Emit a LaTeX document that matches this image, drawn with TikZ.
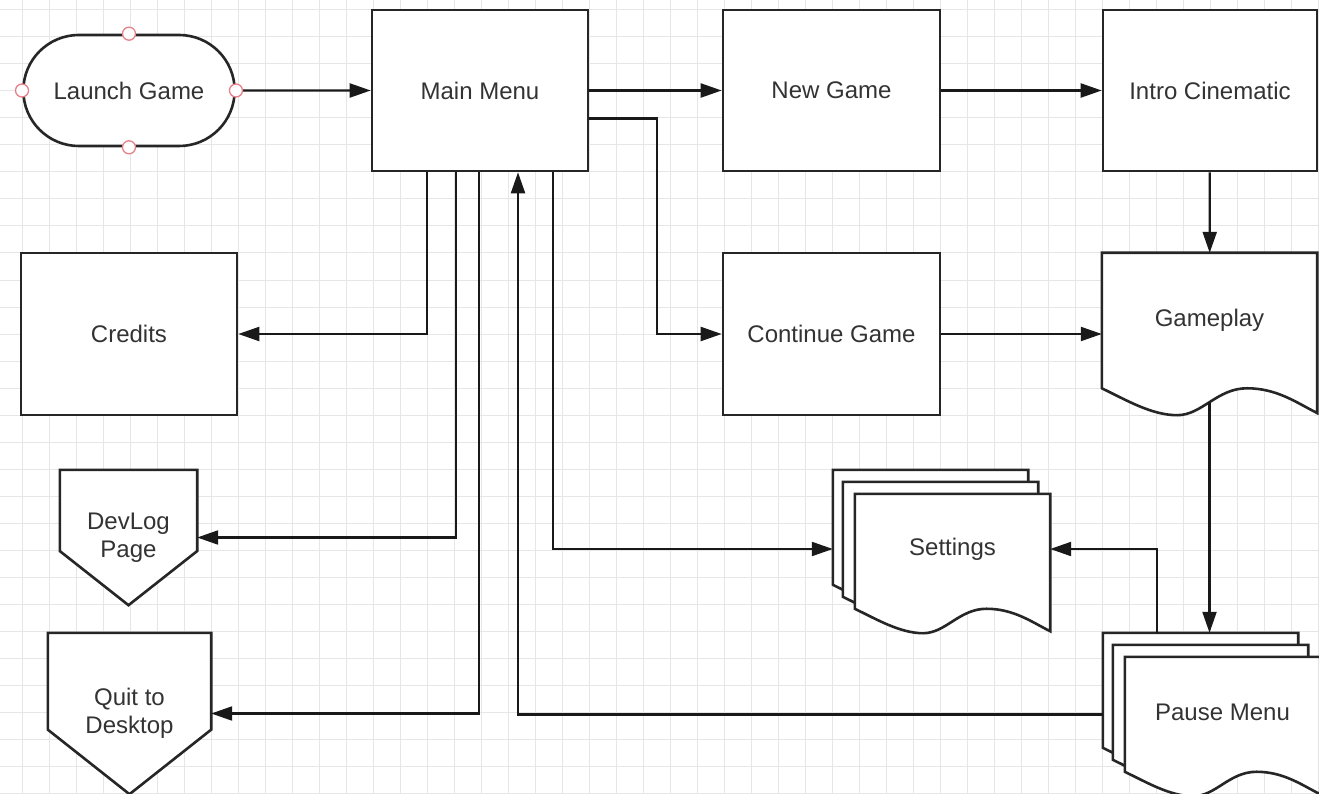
\documentclass[tikz,border=0pt]{standalone}
\usepackage{fontspec}
\setmainfont{Liberation Sans}
\usetikzlibrary{arrows.meta,positioning,calc,shapes.misc}
\pgfdeclarelayer{grid}
\pgfdeclarelayer{shapes}
\pgfsetlayers{grid,shapes,main}
\definecolor{gridgray}{HTML}{E6E6E6}
\definecolor{handlered}{HTML}{E8808A}
\definecolor{labelgray}{HTML}{333333}

\newcommand{\docpage}[3]{%
	\draw[outline] let \p1=($(#1.north west)+#2$), \p2=($(#1.south east)+#3$),
		\n1={\x2-\x1}, \n2={0.125*(\x2-\x1)} in
		(\x1,\y1) -- (\x2,\y1) -- (\x2,{\y2+0.08*\n2})
		.. controls ({\x1+0.907*\n1},{\y2+0.45*\n2}) and ({\x1+0.814*\n1},{\y2+\n2}) .. ({\x1+0.674*\n1},{\y2+\n2})
		.. controls ({\x1+0.535*\n1},{\y2+\n2}) and ({\x1+0.465*\n1},\y2) .. ({\x1+0.35*\n1},\y2)
		.. controls ({\x1+0.233*\n1},\y2) and ({\x1+0.116*\n1},{\y2+0.55*\n2}) .. (\x1,{\y2+\n2}) -- cycle;}
\newcommand{\offpage}[1]{%
	\draw[outline] let \p1=(#1.north west), \p2=(#1.south east), \n1={0.4*(\y1-\y2)} in
		(\x1,\y1) -- (\x2,\y1) -- (\x2,{\y2+\n1}) -- ({0.5*(\x1+\x2)},\y2) -- (\x1,{\y2+\n1}) -- cycle;}

\begin{document}
\begin{tikzpicture}[
	x=1pt, y=-1pt,
	every node/.style={font=\fontsize{24}{28}\selectfont, text=labelgray},
	box/.style={draw=black!85, line width=2.6pt, fill=white, minimum width=216pt, minimum height=161pt, align=center},
	terminal/.style={box, rounded rectangle, minimum width=218pt, minimum height=111pt},
	docbox/.style={rectangle, inner sep=0pt, align=center},
	outline/.style={draw=black!85, line width=2.6pt, fill=white},
	handle/.style={circle, draw=handlered, fill=white, line width=1.3pt, minimum size=13pt, inner sep=0pt},
	gridline/.style={draw=gridgray, line width=1pt},
	arrow/.style={-{Triangle[length=21pt,width=14pt]}, line width=2.2pt, draw=black!90}
	]
	
	\useasboundingbox (0,0) rectangle (1319,794);
	\begin{pgfonlayer}{grid}
		\fill[white] (0,0) rectangle (1319,794);
		\foreach \gx in {22,49,...,1319} \draw[gridline] (\gx,0) -- (\gx,794);
		\foreach \gy in {10,37,...,794} \draw[gridline] (0,\gy) -- (1319,\gy);
	\end{pgfonlayer}
	
	\node[terminal] (launch) at (129,90.5) {Launch Game};
	\node[box] (main) at (480,90.5) {Main Menu};
	\node[box, minimum width=217pt] (newgame) at (831.5,90.5) {New Game};
	\node[box, minimum width=214pt] (intro) at (1210,90.5) {Intro Cinematic};
	\node[box, minimum height=162pt] (credits) at (129,334) {Credits};
	\node[box, minimum width=217pt, minimum height=162pt] (continue) at (831.5,334) {Continue Game};
	\node[docbox, minimum width=215pt, minimum height=162pt, label={[yshift=14pt]center:Gameplay}] (gameplay) at (1209.5,334) {};
	\node[docbox, minimum width=137pt, minimum height=135pt] (devlog) at (128.5,537.5) {DevLog\\Page};
	\node[docbox, minimum width=163pt, minimum height=161pt] (quit) at (129.5,713.5) {Quit to\\Desktop};
	\node[docbox, minimum width=217pt, minimum height=163pt, label={[xshift=11pt,yshift=2.5pt]center:Settings}] (settings) at (941.5,551.5) {};
	\node[docbox, minimum width=217pt, minimum height=163pt, label={[xshift=11pt,yshift=2.5pt]center:Pause Menu}] (pause) at (1211.5,714.5) {};
	
	\begin{pgfonlayer}{shapes}
		\docpage{gameplay}{(0,0)}{(0,0)}
		\foreach \s in {settings,pause}{
			\docpage{\s}{(0,0)}{(-22,-24)}
			\docpage{\s}{(10,12)}{(-12,-12)}
			\docpage{\s}{(22,24)}{(0,0)}
		}
		\offpage{devlog}
		\offpage{quit}
	\end{pgfonlayer}
	
	\draw[arrow] (launch) -- (main);
	\draw[arrow] (main) -- (newgame);
	\draw[arrow] (newgame) -- (intro);
	\draw[arrow] ([yshift=-28pt]main.east) -- ++(68,0) |- (continue);
	\draw[arrow] ([xshift=-53pt]main.south) |- (credits);
	\draw[arrow] ([xshift=-24pt]main.south) |- (devlog);
	\draw[arrow] ([xshift=-1pt]main.south) |- (quit);
	\draw[arrow] ([xshift=73pt]main.south) |- ([yshift=2.5pt]settings.west);
	\draw[arrow] (pause) -| ([xshift=38pt]main.south);
	\draw[arrow] (intro) -- (gameplay);
	\draw[arrow] (continue) -- (gameplay);
	\draw[arrow] ([yshift=13pt]gameplay.south) -- (gameplay.south |- pause.north);
	\draw[arrow] ([xshift=-54.5pt]pause.north) |- ([yshift=2.5pt]settings.east);
	
	\foreach \a in {north,south,east,west}
		\node[handle] (launch-\a) at (launch.\a) {};
	
\end{tikzpicture}
\end{document}
